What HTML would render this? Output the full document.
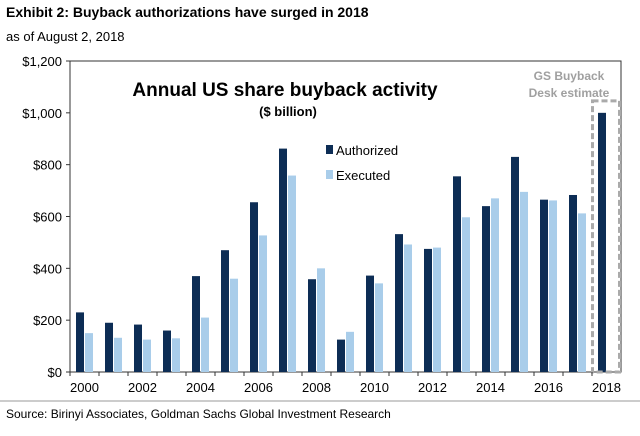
<!DOCTYPE html>
<html><head><meta charset="utf-8"><style>
body{margin:0;background:#fff;width:640px;height:431px;overflow:hidden;font-family:"Liberation Sans",Arial,sans-serif}
</style></head><body>
<svg width="640" height="431" font-family="Liberation Sans, Arial, sans-serif">
<text x="6" y="17" font-size="14" font-weight="bold" fill="#000">Exhibit 2: Buyback authorizations have surged in 2018</text>
<text x="6" y="41" font-size="13" fill="#000">as of August 2, 2018</text>
<rect x="70" y="61" width="551" height="311" fill="none" stroke="#333" stroke-width="1"/>
<text x="285" y="96" font-size="19" font-weight="bold" text-anchor="middle">Annual US share buyback activity</text>
<text x="288" y="116" font-size="13" font-weight="bold" text-anchor="middle">($ billion)</text>
<rect x="326" y="145" width="7" height="9" fill="#0d2d55"/>
<text x="336" y="155" font-size="13">Authorized</text>
<rect x="326" y="170" width="7" height="9" fill="#a9cdea"/>
<text x="336" y="180" font-size="13">Executed</text>
<text x="569" y="80" font-size="12" font-weight="bold" fill="#a0a0a0" text-anchor="middle">GS Buyback</text>
<text x="569" y="97" font-size="12" font-weight="bold" fill="#a0a0a0" text-anchor="middle">Desk estimate</text>
<g id="bars"></g>
<g id="axes"></g>
<line x1="0" y1="401" x2="640" y2="401" stroke="#999"/>
<text x="6" y="418" font-size="12">Source: Birinyi Associates, Goldman Sachs Global Investment Research</text>
</svg>
<script>
const years=[2000,2001,2002,2003,2004,2005,2006,2007,2008,2009,2010,2011,2012,2013,2014,2015,2016,2017,2018];
const authorized=[230,190,183,160,370,470,655,862,358,125,372,532,475,755,640,830,665,683,1000];
const executed=[150,132,125,130,210,360,527,758,400,155,342,492,480,597,670,695,662,612,null];
const yTicks=[0,200,400,600,800,1000,1200];
const yTickLabels=["$0","$200","$400","$600","$800","$1,000","$1,200"];
const NS="http://www.w3.org/2000/svg";
const x0=70,x1=621,yb=372,yt=61;
const bw=(x1-x0)/years.length;
const xc=i=>x0+bw*(i+0.5);
const y=v=>yb-(v/1200)*(yb-yt);
const bars=document.getElementById('bars'),axes=document.getElementById('axes');
function mk(t,a,p){const e=document.createElementNS(NS,t);for(const k in a)e.setAttribute(k,a[k]);p.appendChild(e);return e;}
years.forEach((yr,i)=>{
  const a=mk('rect',{x:xc(i)-8.5,y:y(authorized[i]),width:8,height:yb-y(authorized[i]),fill:'#0d2d55'},bars);
  
  
  if(executed[i]!=null){
    const e=mk('rect',{x:xc(i)+0.5,y:y(executed[i]),width:8,height:yb-y(executed[i]),fill:'#a9cdea'},bars);
    
    
  }
  const tk=mk('line',{x1:x0+bw*i,x2:x0+bw*i,y1:yb,y2:yb+4,stroke:'#333'},axes);
  
  
  if(i%2===0){
    const t=mk('text',{x:xc(i),y:yb+20,'font-size':13,'text-anchor':'middle'},axes);
    t.textContent=yr;
    
    
  }
});
const last=years.length-1;
const box=mk('rect',{x:xc(last)-14,y:y(1000)-12,width:27,height:yb-y(1000)+12,fill:'none',stroke:'#aaa','stroke-width':3,'stroke-dasharray':'6,3'},bars);


yTicks.forEach((v,i)=>{
  const t=mk('text',{x:x0-8,y:y(v)+5,'font-size':13,'text-anchor':'end'},axes);
  t.textContent=yTickLabels[i];
  
  
  const l=mk('line',{x1:x0-4,x2:x0,y1:y(v),y2:y(v),stroke:'#333'},axes);
  
  
});
</script>
</body></html>
